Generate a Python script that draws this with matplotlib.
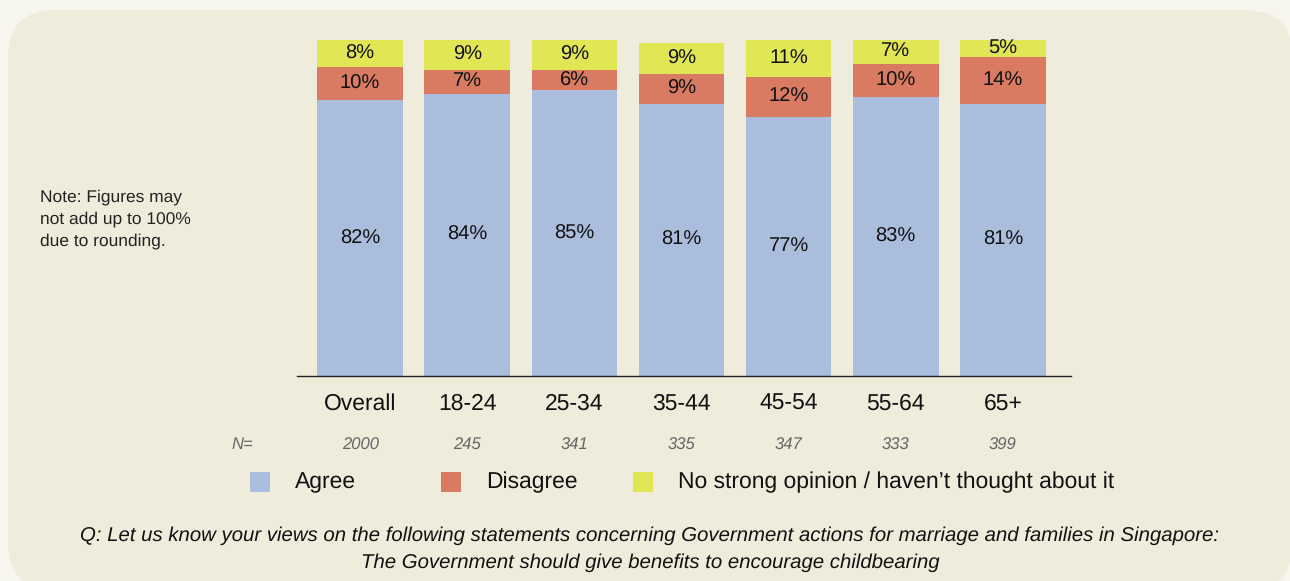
import numpy as np
import matplotlib.pyplot as plt
from matplotlib.patches import FancyBboxPatch, Rectangle
from matplotlib.transforms import blended_transform_factory

categories = ['Overall', '18-24', '25-34', '35-44', '45-54', '55-64', '65+']
sample_n = ['2000', '245', '341', '335', '347', '333', '399']
agree = [82, 84, 85, 81, 77, 83, 81]
disagree = [10, 7, 6, 9, 12, 10, 14]
no_opinion = [8, 9, 9, 9, 11, 7, 5]
series_names = ['Agree', 'Disagree', 'No strong opinion / haven\u2019t thought about it']

colors = ['#aabddd', '#d97b63', '#e1e655']
plt.rcParams['font.family'] = ['Liberation Sans', 'DejaVu Sans']
plt.rcParams['text.hinting'] = 'no_hinting'

W, H = 1290, 581
fig = plt.figure(figsize=(W / 100, H / 100), dpi=100)
fig.patch.set_facecolor('#f6f5ee')

# background panel in pixel coords
bg = fig.add_axes([0, 0, 1, 1])
bg.set_xlim(0, W)
bg.set_ylim(H, 0)
bg.axis('off')
bg.add_patch(FancyBboxPatch((8, 10), 1285, 580, boxstyle='round,pad=0,rounding_size=48',
                            facecolor='#f0ecdc', edgecolor='none'))

# main bar axes
ax = fig.add_axes([297 / W, (H - 376) / H, 774 / W, 336 / H])
ax.set_facecolor('none')
x = np.arange(len(categories))
bottom = np.zeros(len(categories))
for vals, col in zip([agree, disagree, no_opinion], colors):
    vals = np.array(vals)
    bars = ax.bar(x, vals, width=0.80, bottom=bottom, color=col, zorder=2)
    ax.bar_label(bars, labels=[f'{v}%' for v in vals], label_type='center',
                 fontsize=14.5, color='#111111')
    bottom += vals

ax.set_xlim(-0.589, 6.636)
ax.set_ylim(0, 100)
ax.set_yticks([])
for s in ['top', 'right', 'left']:
    ax.spines[s].set_visible(False)
ax.spines['bottom'].set_color('#222222')
ax.spines['bottom'].set_linewidth(1.0)
ax.set_xticks(x)
ax.set_xticklabels(categories, fontsize=16.5)
ax.tick_params(axis='x', length=0, pad=12, colors='#111111')

# sample sizes
tr = blended_transform_factory(ax.transData, bg.transData)
bg.text(242, 445, 'N=', fontsize=12, style='italic', color='#666666', ha='center', va='center')
for xi, n in zip(x, sample_n):
    bg.text(xi, 445, n, transform=tr, fontsize=12, style='italic', color='#666666',
            ha='center', va='center')

# legend
leg_x = [250, 441, 633]
for lx, name, col in zip(leg_x, series_names, colors):
    bg.add_patch(Rectangle((lx, 472), 20, 20, facecolor=col, edgecolor='none'))
    bg.text(lx + 45, 482, name, fontsize=16.5, color='#111111', va='center', ha='left')

# note
bg.text(40, 219, 'Note: Figures may\nnot add up to 100%\ndue to rounding.', fontsize=12.5,
        color='#222222', va='center', ha='left', linespacing=1.5)

# question
bg.text(650, 549, 'Q: Let us know your views on the following statements concerning Government actions for marriage and families in Singapore:\n'
        'The Government should give benefits to encourage childbearing',
        fontsize=14.7, style='italic', color='#111111', ha='center', va='center', linespacing=1.6)

fig.savefig('out.png', dpi=100, facecolor=fig.get_facecolor())
